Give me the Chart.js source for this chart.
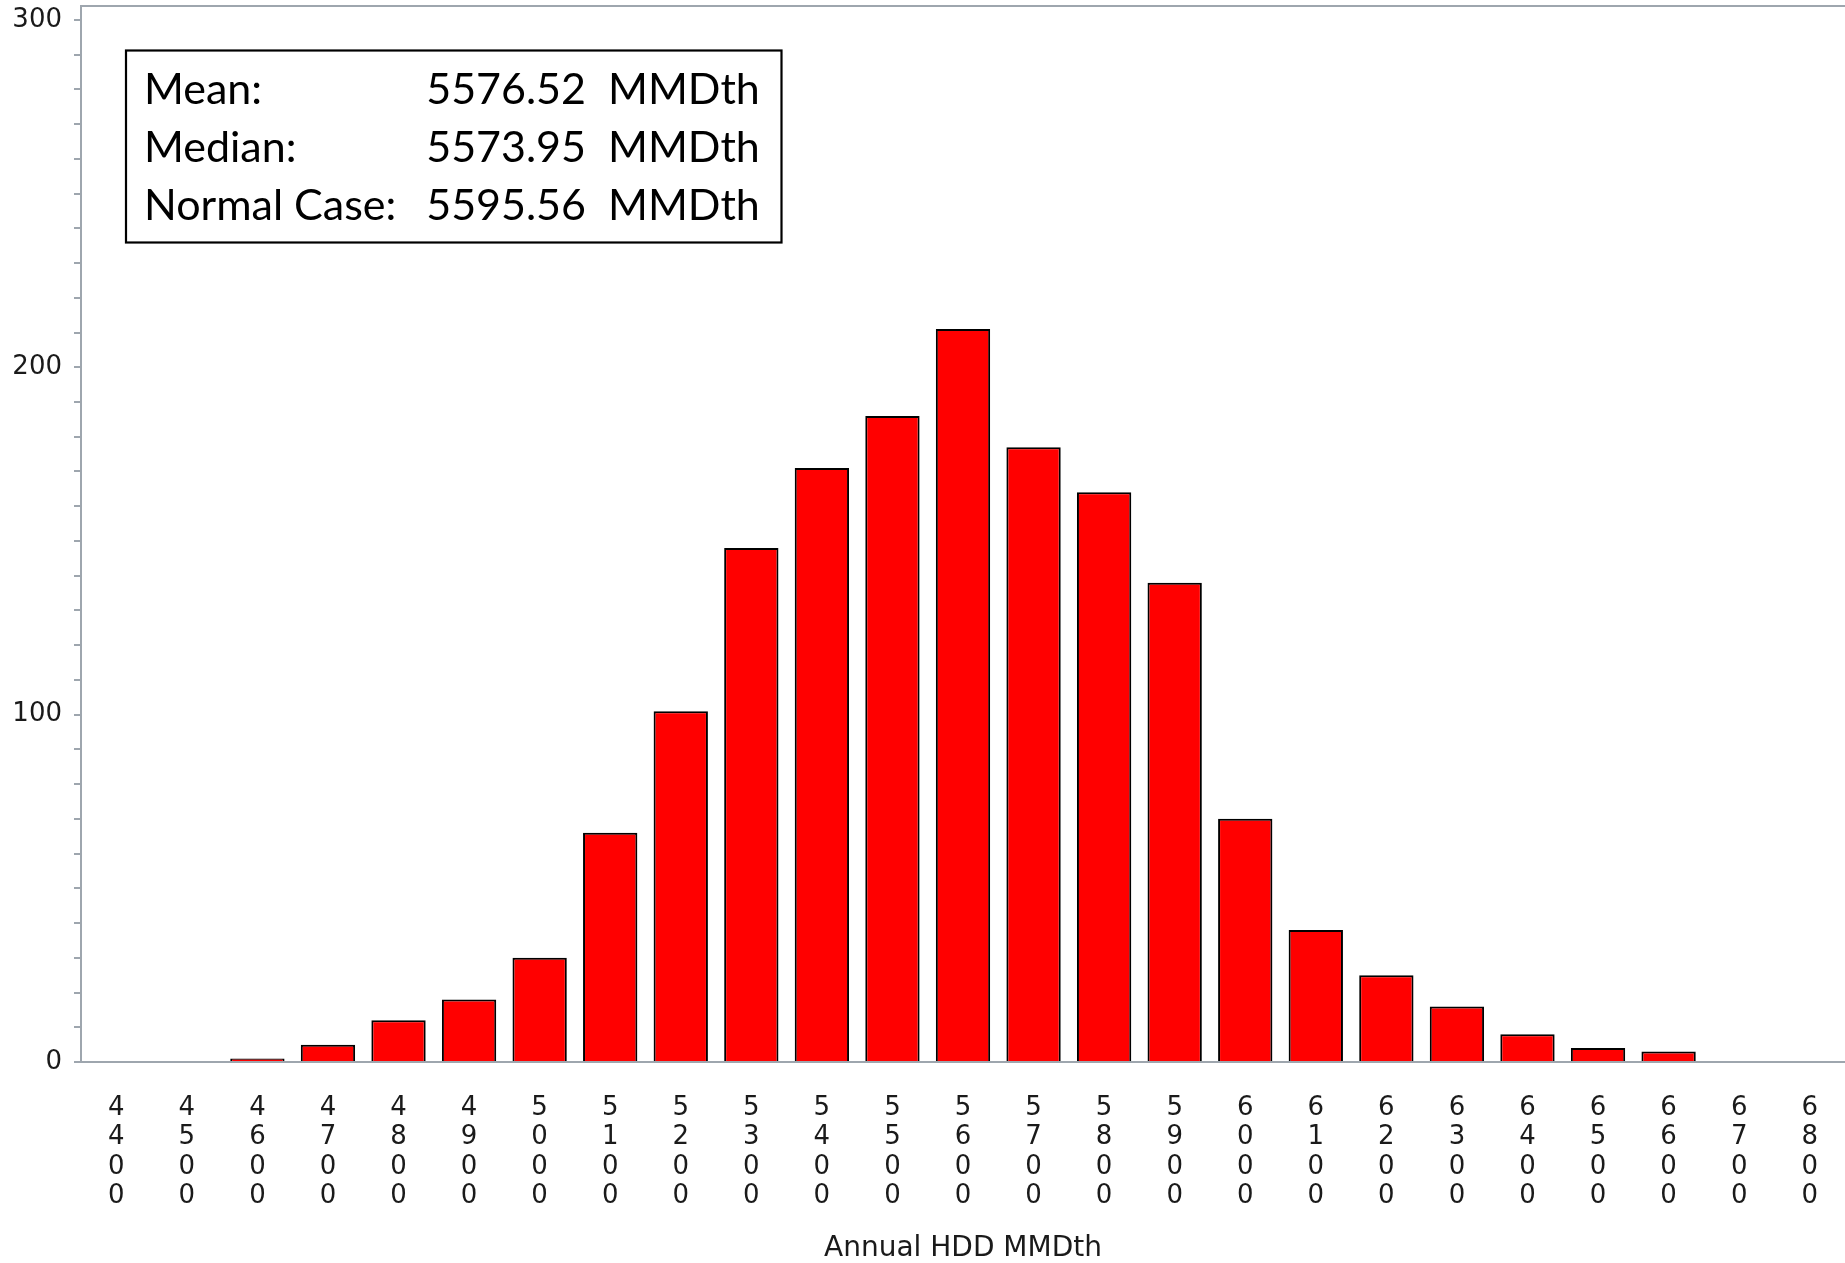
<!DOCTYPE html>
<html>
<head>
<meta charset="utf-8">
<title>Annual HDD MMDth</title>
<script src="https://cdn.jsdelivr.net/npm/chart.js@4.4.1/dist/chart.umd.min.js"></script>
<style>
  html, body { margin: 0; padding: 0; background: #fff; overflow: hidden; }
  #wrap { position: relative; width: 1845px; height: 1263px; }
  #stats { position: absolute; left: 0; top: 0; }
</style>
</head>
<body>
<div id="wrap">
  <canvas id="hddChart" width="1845" height="1263"></canvas>
  <svg id="stats" width="800" height="260" xmlns="http://www.w3.org/2000/svg"></svg>
</div>
<script>
// bins (MMDth) and counts per bin
const categories = ['4400', '4500', '4600', '4700', '4800', '4900', '5000', '5100', '5200', '5300',
    '5400', '5500', '5600', '5700', '5800', '5900', '6000', '6100', '6200', '6300',
    '6400', '6500', '6600', '6700', '6800'];
const counts = [0, 0, 1, 5, 12, 18, 30, 66, 101, 148,
    171, 186, 211, 177, 164, 138, 70, 38, 25, 16,
    8, 4, 3, 0, 0];
const yLabelTicks = [0, 100, 200, 300];
const yMinorStep = 10;

const statLabels = ['Mean:', 'Median:', 'Normal Case:'];
const statValues = ['5576.52', '5573.95', '5595.56'];
const statUnit = 'MMDth';

const axisGray = '#9ea6ae';
const textColor = '#1a1a1a';

// stats box (svg text on top of the chart)
function drawStats() {
    const svg = document.getElementById('stats');
    const ns = 'http://www.w3.org/2000/svg';
    const box = document.createElementNS(ns, 'rect');
    box.setAttribute('x', 126);
    box.setAttribute('y', 50.5);
    box.setAttribute('width', 655.5);
    box.setAttribute('height', 192);
    box.setAttribute('fill', 'none');
    box.setAttribute('stroke', '#000');
    box.setAttribute('stroke-width', 2.2);
    svg.appendChild(box);

    const addText = (str, x, y, anchor) => {
        const t = document.createElementNS(ns, 'text');
        t.setAttribute('x', x);
        t.setAttribute('y', y);
        t.setAttribute('text-anchor', anchor);
        t.setAttribute('font-family', 'Lato, "Open Sans", sans-serif');
        t.setAttribute('font-size', 43);
        t.setAttribute('fill', '#000');
        t.textContent = str;
        svg.appendChild(t);
    };
    statLabels.forEach((lab, i) => {
        const y = 103.5 + i * 58.3;
        addText(lab, 144, y, 'start');
        addText(statValues[i], 586, y, 'end');
        addText(statUnit, 608, y, 'start');
    });
}

// top frame line of the plot area
const frameLine = {
    id: 'frameLine',
    afterDraw(chart) {
        const { ctx, chartArea } = chart;
        ctx.save();
        ctx.strokeStyle = axisGray;
        ctx.lineWidth = 2;
        ctx.beginPath();
        ctx.moveTo(chartArea.left, chartArea.top);
        ctx.lineTo(chart.width, chartArea.top);
        ctx.stroke();
        ctx.restore();
    }
};

const ctx = document.getElementById('hddChart').getContext('2d');
new Chart(ctx, {
    type: 'bar',
    data: {
        labels: categories,
        datasets: [{
            data: counts,
            backgroundColor: '#ff0000',
            borderColor: '#000000',
            borderWidth: 2,
            barPercentage: 0.77,
            categoryPercentage: 1.0
        }]
    },
    options: {
        responsive: false,
        animation: false,
        devicePixelRatio: 1,
        // plot runs a little past the right edge, like the cropped original
        layout: { padding: { top: 6, right: -14, left: 0, bottom: 0 } },
        plugins: { legend: { display: false }, tooltip: { enabled: false } },
        scales: {
            x: {
                offset: true,
                grid: { display: true, drawOnChartArea: false, drawTicks: false, color: axisGray },
                border: { display: true, color: axisGray, width: 2 },
                ticks: {
                    autoSkip: false,
                    maxRotation: 0,
                    minRotation: 0,
                    padding: 32,
                    color: textColor,
                    font: { family: '"DejaVu Sans", sans-serif', size: 26, lineHeight: 1.12 },
                    callback: (val, i) => categories[i].split('')
                },
                title: {
                    display: true,
                    text: 'Annual HDD MMDth',
                    color: textColor,
                    padding: { top: 0, bottom: -3 },
                    font: { family: '"DejaVu Sans", sans-serif', size: 28 }
                },
                afterFit: (scale) => { scale.height = 201; scale.paddingLeft = 0; scale.paddingRight = 0; }
            },
            y: {
                min: 0,
                max: 304,
                grid: { drawOnChartArea: false, drawTicks: true, tickLength: 7, color: axisGray, lineWidth: 2 },
                border: { display: true, color: axisGray, width: 2 },
                afterBuildTicks: (scale) => {
                    const t = [];
                    for (let v = yLabelTicks[0]; v <= yLabelTicks[yLabelTicks.length - 1]; v += yMinorStep) t.push({ value: v });
                    scale.ticks = t;
                },
                ticks: {
                    padding: 12,
                    color: textColor,
                    font: { family: '"DejaVu Sans", sans-serif', size: 26 },
                    callback: (v) => yLabelTicks.includes(v) ? String(v) : ''
                },
                afterFit: (scale) => { scale.width = 81; scale.paddingTop = 0; scale.paddingBottom = 0; }
            }
        }
    },
    plugins: [frameLine]
});

drawStats();
</script>
</body>
</html>
